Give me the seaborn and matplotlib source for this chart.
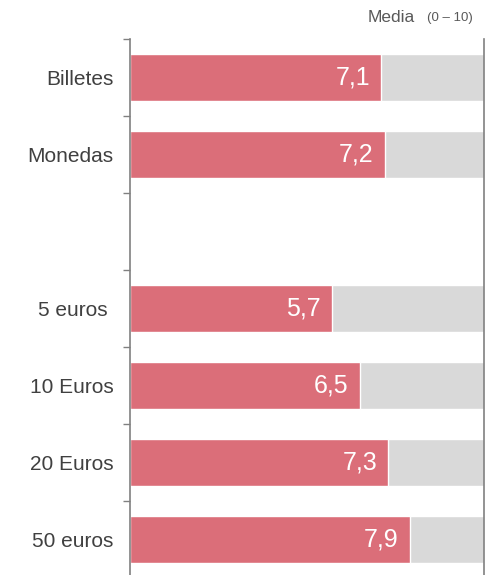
import numpy as np
import pandas as pd
import matplotlib
matplotlib.use("Agg")
import matplotlib.pyplot as plt
from matplotlib.ticker import FixedLocator, NullLocator
import seaborn as sns

# Mean scores (scale 0–10); the empty row separates the two groups
categories = ["Billetes", "Monedas", " ", "5 euros ", "10 Euros", "20 Euros", "50 euros"]
scores = [7.1, 7.2, np.nan, 5.7, 6.5, 7.3, 7.9]
scale_max = [10, 10, np.nan, 10, 10, 10, 10]
score_labels = ["7,1", "7,2", "", "5,7", "6,5", "7,3", "7,9"]

df = pd.DataFrame({"categoria": categories, "media": scores, "maximo": scale_max})

sns.set_theme(style="white")
plt.rcParams["font.family"] = ["Liberation Sans", "DejaVu Sans"]

fig = plt.figure(figsize=(4.95, 5.75), dpi=100)
ax = fig.add_axes([130 / 495, -3 / 575, (484 - 130) / 495, (578 - 39) / 575])

sns.barplot(data=df, y="categoria", x="maximo", order=categories, color="#d9d9d9",
            width=0.6, orient="h", saturation=1, ax=ax, errorbar=None)
sns.barplot(data=df, y="categoria", x="media", order=categories, color="#db6e79",
            width=0.6, orient="h", saturation=1, ax=ax, errorbar=None)

ax.set_xlim(0, 10)
ax.set_ylim(len(categories) - 0.5, -0.5)
ax.set_xlabel("")
ax.set_ylabel("")
ax.xaxis.set_major_locator(NullLocator())

# Value labels inside the end of each bar
for i, (v, lab) in enumerate(zip(scores, score_labels)):
    if np.isnan(v):
        continue
    ax.text(v - 0.32, i, lab, ha="right", va="center", color="white", fontsize=18)

# Category labels and boundary ticks on the left spine
ax.tick_params(axis="y", which="major", length=0, pad=12, labelsize=15, labelcolor="#404040")
ax.yaxis.set_minor_locator(FixedLocator(np.arange(-0.5, len(categories), 1.0)))
ax.tick_params(axis="y", which="minor", length=5, width=1, color="#808080", left=True)

for side in ["top", "bottom"]:
    ax.spines[side].set_visible(False)
for side in ["left", "right"]:
    ax.spines[side].set_visible(True)
    ax.spines[side].set_color("#808080")
    ax.spines[side].set_linewidth(1.2)
ax.set_facecolor("white")

fig.text(415 / 495, 1 - 17 / 575, "Media", ha="right", va="center", fontsize=12.5, color="#595959")
fig.text(427 / 495, 1 - 18 / 575, "(0 \u2013 10)", ha="left", va="center", fontsize=9.5, color="#595959")

fig.savefig("out.png", dpi=100)
